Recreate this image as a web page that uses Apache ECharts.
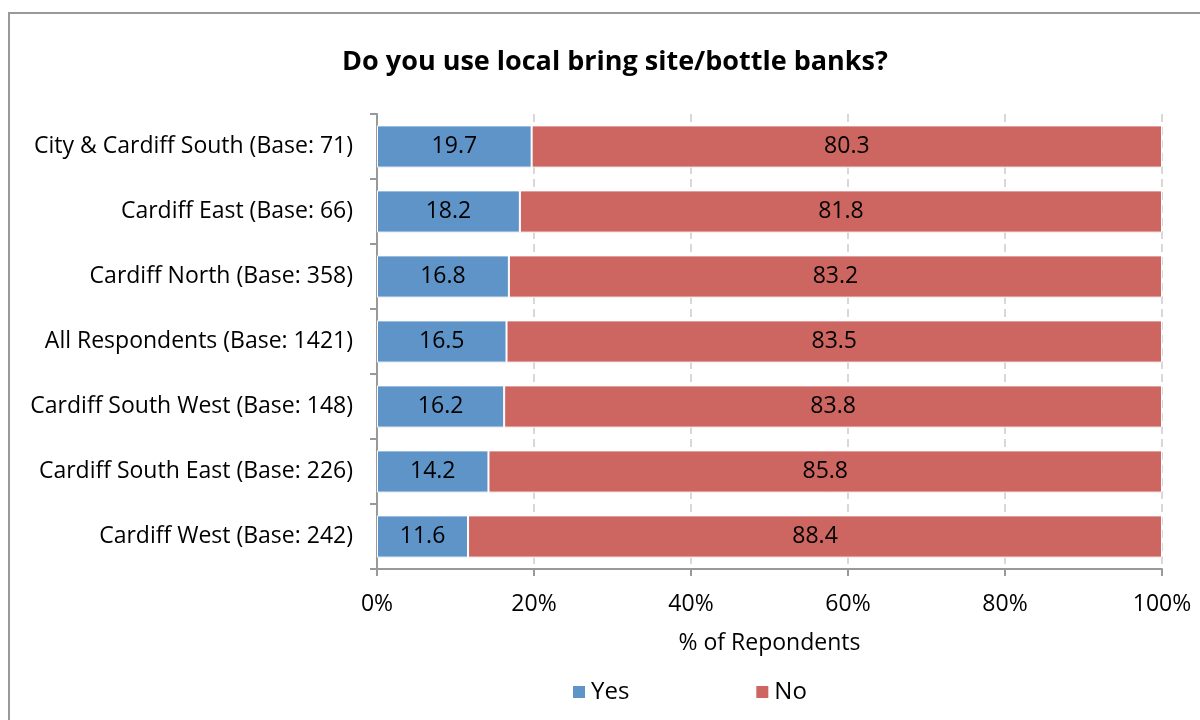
<!DOCTYPE html>
<html><head><meta charset="utf-8">
<script src="https://cdn.jsdelivr.net/npm/echarts@6/dist/echarts.min.js"></script>
<style>html,body{margin:0;padding:0;background:#fff}#c{width:1200px;height:720px}</style>
</head><body><div id="c"></div>
<script>
const categories = [
  'City & Cardiff South (Base: 71)',
  'Cardiff East (Base: 66)',
  'Cardiff North (Base: 358)',
  'All Respondents (Base: 1421)',
  'Cardiff South West (Base: 148)',
  'Cardiff South East (Base: 226)',
  'Cardiff West (Base: 242)'
];
const yesValues = [19.7, 18.2, 16.8, 16.5, 16.2, 14.2, 11.6];
const noValues = [80.3, 81.8, 83.2, 83.5, 83.8, 85.8, 88.4];
const seriesNames = ['Yes', 'No'];
const titleText = 'Do you use local bring site/bottle banks?';
const xAxisName = '% of Repondents';

const FONT = '"Open Sans", Lato, sans-serif';
const FS = 23;
const chart = echarts.init(document.getElementById('c'));
chart.setOption({
  animation: false,
  textStyle: { fontFamily: FONT },
  graphic: [{
    type: 'rect', shape: { x: 9, y: 13, width: 1200, height: 720 },
    style: { fill: 'none', stroke: '#999', lineWidth: 2 }, silent: true
  }],
  title: {
    text: titleText, left: 610, top: 44, textAlign: 'center',
    textStyle: { fontFamily: FONT, fontSize: 27, fontWeight: 'bold', color: '#000' }
  },
  legend: {
    data: seriesNames, top: 675, left: 566, itemGap: 125,
    itemWidth: 14, itemHeight: 14, icon: 'rect',
    textStyle: { fontFamily: FONT, fontSize: 24, color: '#000' }
  },
  grid: { left: 377, right: 38, top: 114, bottom: 151, containLabel: false },
  xAxis: {
    type: 'value', min: 0, max: 100, interval: 20,
    name: xAxisName, nameLocation: 'middle', nameGap: 63,
    nameTextStyle: { fontFamily: FONT, fontSize: FS, color: '#000' },
    axisLabel: { formatter: '{value}%', fontFamily: FONT, fontSize: FS, color: '#000', margin: 24 },
    axisLine: { show: true, lineStyle: { color: '#999', width: 2 } },
    axisTick: { show: true, length: 7, lineStyle: { color: '#999', width: 2 } },
    splitLine: { show: true, lineStyle: { color: '#ccc', type: [8, 5], width: 1.5 } }
  },
  yAxis: {
    type: 'category', data: categories, inverse: true,
    axisLabel: { fontFamily: FONT, fontSize: FS, color: '#000', margin: 24 },
    axisLine: { show: true, lineStyle: { color: '#999', width: 2 } },
    axisTick: { show: true, length: 7, lineStyle: { color: '#999', width: 2 } }
  },
  series: [
    {
      name: seriesNames[0], type: 'bar', stack: 'a', data: yesValues, barCategoryGap: '35%',
      itemStyle: { color: '#5f94c9', borderColor: '#fff', borderWidth: 1 },
      label: { show: true, position: 'inside', formatter: p => p.value.toFixed(1), fontFamily: FONT, fontSize: FS, color: '#000' }
    },
    {
      name: seriesNames[1], type: 'bar', stack: 'a', data: noValues,
      itemStyle: { color: '#cd6560', borderColor: '#fff', borderWidth: 1 },
      label: { show: true, position: 'inside', formatter: p => p.value.toFixed(1), fontFamily: FONT, fontSize: FS, color: '#000' }
    }
  ]
});
</script></body></html>
